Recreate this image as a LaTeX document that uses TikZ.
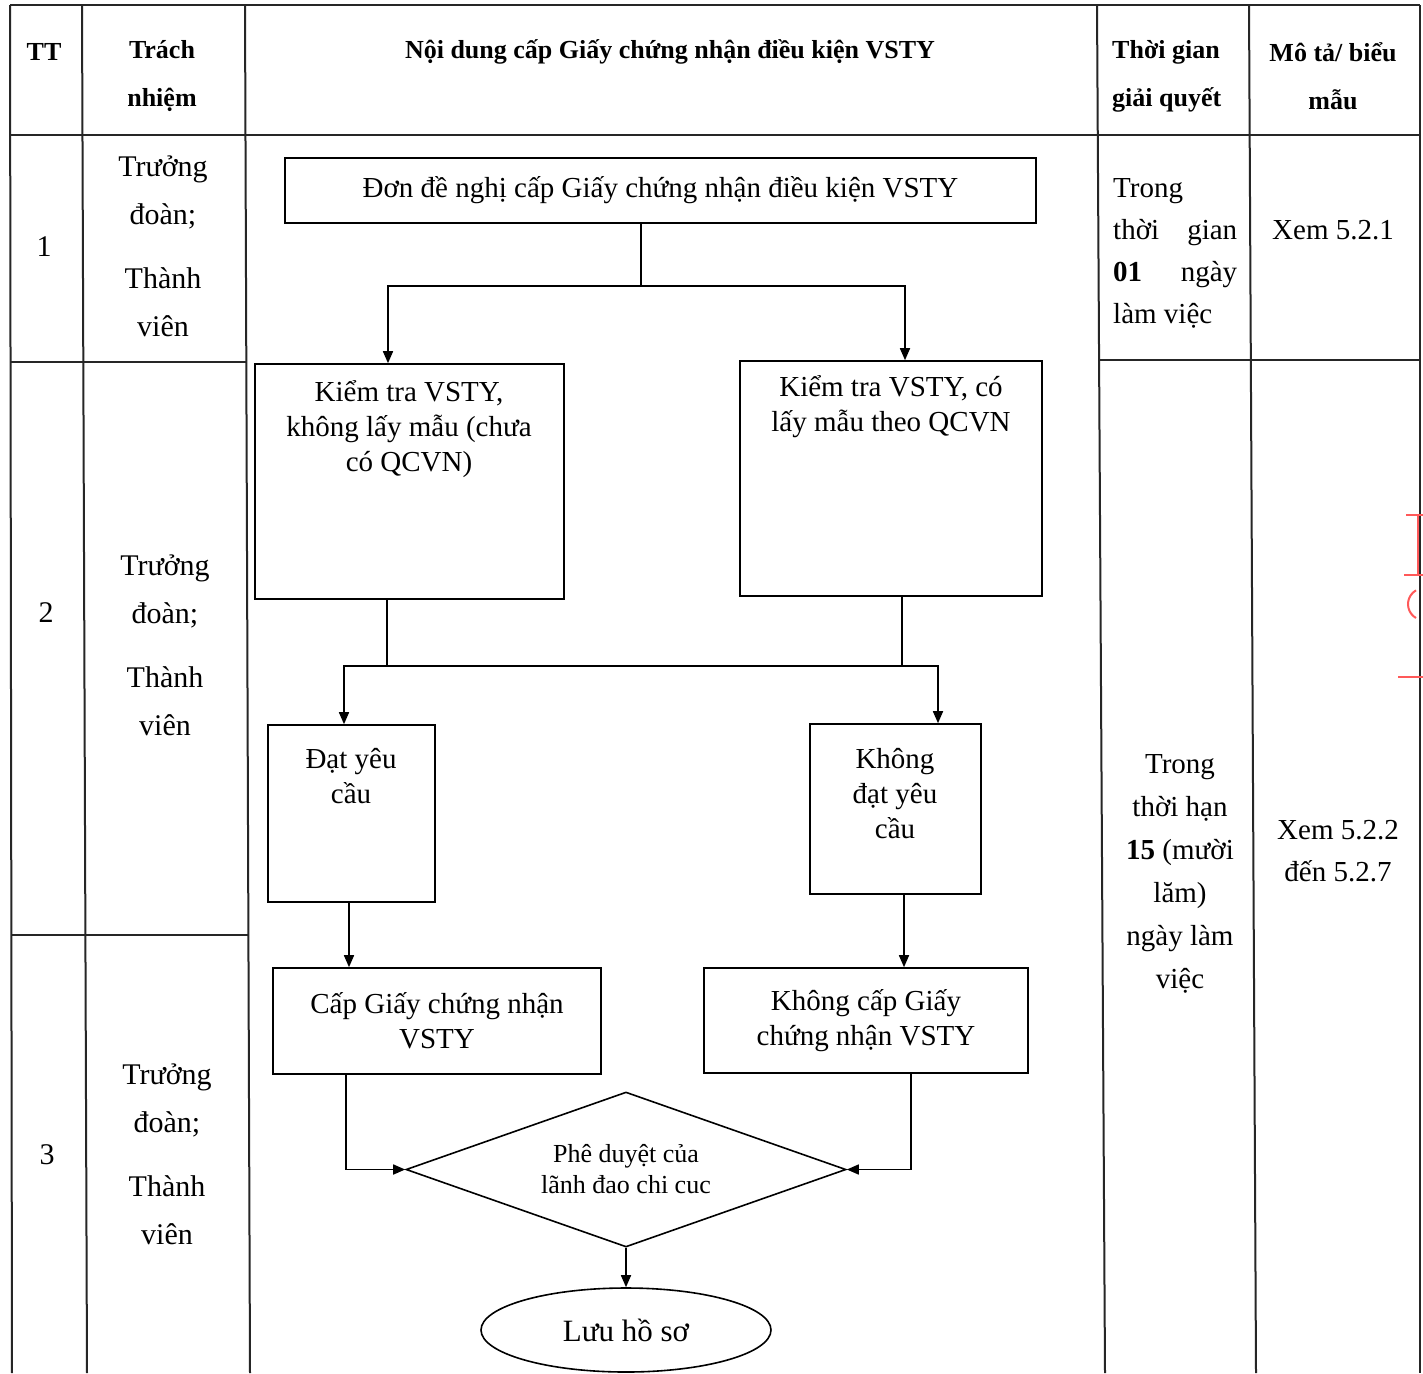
\documentclass[tikz,border=0pt]{standalone}
\usepackage{fontspec}
\setmainfont{Liberation Serif}
\usetikzlibrary{arrows.meta,shapes.geometric,calc}
\begin{document}
\begin{tikzpicture}[x=1pt,y=-1pt,
  tline/.style={line width=2pt,black!85},
  fl/.style={line width=1.6pt},
  arr/.style={line width=1.6pt,-{Triangle[length=12pt,width=10pt]}},
  box/.style={draw,line width=1.6pt,inner sep=0pt,rectangle},
  txt/.style={font=\fontsize{29}{35}\selectfont,align=center,inner sep=0pt},
  hdr/.style={font=\bfseries\fontsize{26}{48}\selectfont,align=center,inner sep=0pt},
  cell/.style={font=\fontsize{30}{48}\selectfont,align=center,inner sep=0pt},
  tcell/.style={font=\fontsize{29}{43}\selectfont,align=center,inner sep=0pt},
  stamp/.style={red!65,line width=2pt}
]
\useasboundingbox (0,0) rectangle (1423,1373);
\fill[white] (0,0) rectangle (1423,1373);

% ---- table frame ----
\draw[tline] (10,5) -- (1420,5);
\draw[tline] (10,135) -- (1420,135);
\draw[tline] (10,5) -- (12,1373);
\draw[tline] (82,5) -- (87,1373);
\draw[tline] (245,5) -- (250,1373);
\draw[tline] (1097,5) -- (1105,1373);
\draw[tline] (1249,5) -- (1256,1373);
\draw[tline] (1420,5) -- (1420,1373);
\draw[tline] (10,362) -- (246,362);
\draw[tline] (1098,360) -- (1420,360);
\draw[tline] (11,935) -- (248,935);

% ---- header ----
\node[hdr] (hTT) at (44,52) {TT};
\node[hdr] (hTN) at (162,76) {Trách\\nhiệm};
\node[hdr] (hND) at (670,52) {Nội dung cấp Giấy chứng nhận điều kiện VSTY};
\node[hdr,align=left,anchor=west] (hTG) at (1112,76) {Thời gian\\giải quyết};
\node[hdr] (hMT) at (1333,76) {Mô tả/ biểu\\mẫu};

% ---- left columns ----
\node[cell] (n1) at (44,247) {1};
\node[cell] (n2) at (46,613) {2};
\node[cell] (n3) at (47,1155) {3};
\node[cell] (r1) at (163,246) {Trưởng\\đoàn;\\[16pt]Thành\\viên};
\node[cell] (r2) at (165,645) {Trưởng\\đoàn;\\[16pt]Thành\\viên};
\node[cell] (r3) at (167,1154) {Trưởng\\đoàn;\\[16pt]Thành\\viên};

% ---- time / description ----
\node[font=\fontsize{29}{42}\selectfont,align=left,inner sep=0pt,anchor=west] (t1) at (1113,253)
  {Trong\\\makebox[124pt][s]{thời\hfill gian}\\\makebox[124pt][s]{\textbf{01}\hfill ngày}\\làm việc};
\node[font=\fontsize{29}{48}\selectfont,inner sep=0pt] (d1) at (1333,230) {Xem 5.2.1};
\node[tcell] (t2) at (1180,874) {Trong\\thời hạn\\\textbf{15} (mười\\lăm)\\ngày làm\\việc};
\node[font=\fontsize{29}{42}\selectfont,align=center,inner sep=0pt] (d2) at (1338,851) {Xem 5.2.2\\đến 5.2.7};

% ---- flowchart ----
\node[box,minimum width=751pt,minimum height=65pt,txt] (top) at (660.5,190.5)
  {Đơn đề nghị cấp Giấy chứng nhận điều kiện VSTY};
\node[box,minimum width=309pt,minimum height=235pt] (A) at (409.5,481.5) {};
\node[txt] (Atx) at (409,429) {Kiểm tra VSTY,\\không lấy mẫu (chưa\\có QCVN)};
\node[box,minimum width=302pt,minimum height=235pt] (B) at (891,478.5) {};
\node[txt] (Btx) at (891,407) {Kiểm tra VSTY, có\\lấy mẫu theo QCVN};
\node[box,minimum width=167pt,minimum height=177pt] (C) at (351.5,813.5) {};
\node[txt] (Ctx) at (351,776) {Đạt yêu\\cầu};
\node[box,minimum width=171pt,minimum height=170pt] (D) at (895.5,809) {};
\node[txt] (Dtx) at (895,794) {Không\\đạt yêu\\cầu};
\node[box,minimum width=328pt,minimum height=106pt,txt] (E) at (437,1021) {Cấp Giấy chứng nhận\\VSTY};
\node[box,minimum width=324pt,minimum height=105pt,txt] (F) at (866,1020.5) {Không cấp Giấy\\chứng nhận VSTY};
\node[draw,line width=1.6pt,diamond,aspect=2.84,minimum width=440pt,minimum height=155pt,inner sep=0pt,
  font=\fontsize{26}{31}\selectfont,align=center] (dia) at (626,1169.5) {Phê duyệt của\\lãnh đao chi cuc};
\node[draw,line width=1.6pt,ellipse,minimum width=290pt,minimum height=84pt,inner sep=0pt,
  font=\fontsize{31}{35}\selectfont] (ell) at (626,1330) {Lưu hồ sơ};

% connectors
\coordinate (j1) at (641,286);
\coordinate (aL) at (388,286);
\coordinate (aR) at (905,286);
\draw[fl] (top.south -| j1) -- (j1);
\draw[arr] (j1) -- (aL) -- (aL |- A.north);
\draw[arr] (j1) -- (aR) -- (aR |- B.north);

\coordinate (j2L) at (387,666);
\coordinate (j2R) at (902,666);
\coordinate (cL) at (344,666);
\coordinate (cR) at (938,666);
\draw[fl] (A.south -| j2L) -- (j2L);
\draw[fl] (B.south -| j2R) -- (j2R);
\draw[arr] (j2L) -- (cL) -- (cL |- C.north);
\draw[arr] (j2L) -- (cR) -- (cR |- D.north);

\coordinate (xC) at (349,0);
\coordinate (xD) at (904,0);
\draw[arr] (C.south -| xC) -- (E.north -| xC);
\draw[arr] (D.south -| xD) -- (F.north -| xD);

\coordinate (eL) at (346,0);
\coordinate (fR) at (911,0);
\draw[arr] (E.south -| eL) |- (dia.west);
\draw[arr] (F.south -| fR) |- (dia.east);
\draw[arr] (dia.south) -- (dia.south |- ell.north);

% ---- stamp fragment at right edge ----
\draw[stamp] (1406,515) -- (1423,515);
\draw[stamp] (1418,515) -- (1418,575);
\draw[stamp] (1404,575) -- (1423,575);
\draw[stamp] (1416,618) arc[start angle=120,end angle=240,radius=16];
\draw[stamp] (1398,677) -- (1423,677);
\end{tikzpicture}
\end{document}
